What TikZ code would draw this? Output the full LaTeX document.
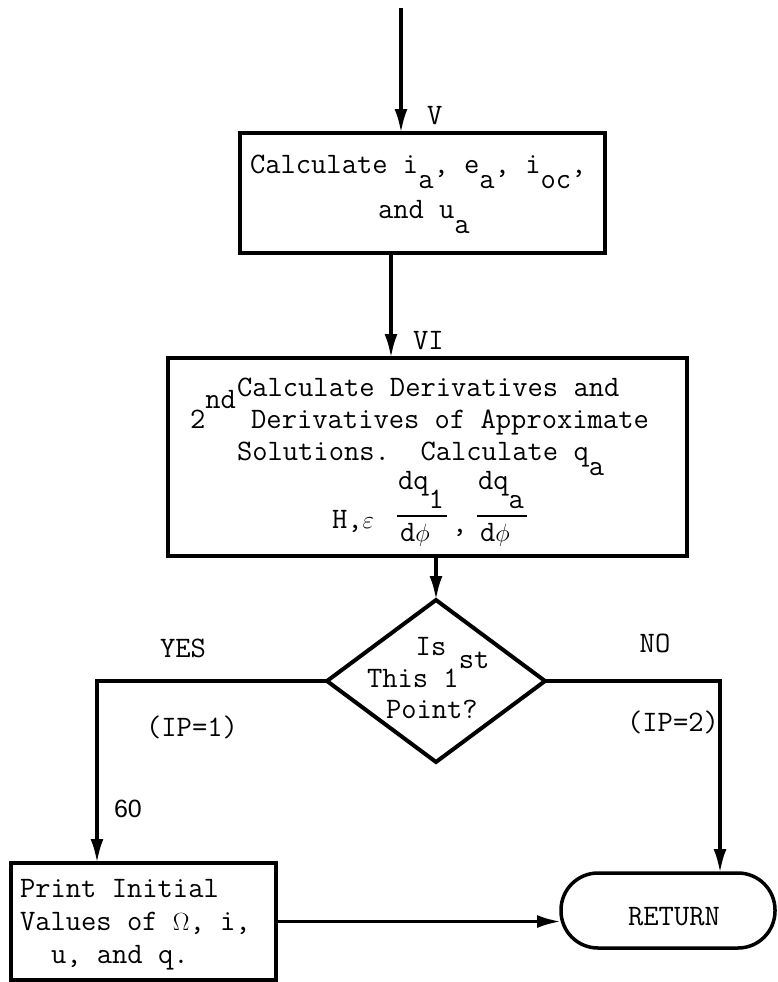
\documentclass[tikz,border=0pt]{standalone}
\usepackage{fontspec}
\newfontfamily\sixtyfont{Liberation Sans}
\usetikzlibrary{shapes.geometric,arrows.meta}
\newcommand\dn[2][15pt]{\raisebox{-#1}[0pt][0pt]{#2}}
\newcommand\up[2][20pt]{\raisebox{#1}[0pt][0pt]{#2}}
\begin{document}
\begin{tikzpicture}[x=1pt,y=-1pt,
  every node/.style={font=\ttfamily\fontsize{29.7}{31}\selectfont},
  box/.style={draw, line width=3.5pt, rectangle, inner sep=0pt, outer sep=0pt},
  dec/.style={draw, line width=4pt, diamond, inner sep=0pt, outer sep=0pt},
  txt/.style={inner sep=0pt, outer sep=0pt, anchor=base west},
  ctxt/.style={inner sep=0pt, outer sep=0pt, anchor=base},
  arr/.style={line width=3.5pt, -{Latex[length=24pt,width=13pt]}},
  bar/.style={line width=2pt}]
\useasboundingbox (0,0) rectangle (777,982);

% shapes
\node[box, minimum width=365pt, minimum height=120pt] (b1) at (422.5,193) {};
\node[box, minimum width=519pt, minimum height=198pt] (b2) at (427.5,457) {};
\node[dec, minimum width=218pt, minimum height=162pt] (d) at (436,681) {};
\node[box, minimum width=265pt, minimum height=117pt] (pr) at (143.5,921.5) {};
\node[box, rounded corners=37pt, minimum width=214pt, minimum height=75pt] (ret) at (668,910.5) {};

% box 1 text
\node[txt] (t1a) at (250,173) {Calculate i\dn{a}, e\dn{a}, i\dn{oc},};
\node[txt] (t1b) at (378,218) {and u\dn{a}};

% box 2 text
\node[txt] (t2a) at (237,396) {Calculate Derivatives and};
\node[txt] (t2b) at (190,428) {2\up{nd} Derivatives of Approximate};
\node[txt] (t2c) at (237,460) {Solutions.\ \ Calculate q\dn{a}};
\node[txt] (t2h) at (332,528) {H,$\varepsilon$};
\node[txt] (n1) at (398,489) {dq\dn[19pt]{1}};
\draw[bar] (397,516) -- (447,516);
\node[txt] (m1) at (400,541) {d$\phi$};
\node[txt] (cm) at (452,532) {,};
\node[txt] (n2) at (478,489) {dq\dn[19pt]{a}};
\draw[bar] (477,516) -- (527,516);
\node[txt] (m2) at (480,541) {d$\phi$};

% diamond text
\node[ctxt] (dq1) at (431,655) {Is};
\node[txt] (dq2) at (367,687) {This 1\up[19pt]{st}};
\node[txt] (dq3) at (386,718) {Point?};

% print box text
\node[txt] (p1) at (20,897) {Print Initial};
\node[txt] (p2) at (20,930) {Values of $\Omega$, i,};
\node[txt] (p3) at (51,963) {u, and q.};

% return
\node[ctxt] (rt) at (674,925) {RETURN};

% labels
\node[txt] (lv) at (427,124) {V};
\node[txt] (lvi) at (413,349) {VI};
\node[ctxt] (ly) at (183,657) {YES};
\node[ctxt] (ln) at (655,652) {NO};
\node[ctxt] (lip1) at (192,736) {(IP=1)};
\node[ctxt] (lip2) at (673,731) {(IP=2)};
\node[ctxt, font=\sixtyfont\fontsize{25}{28}\selectfont] (l60) at (128,817) {60};

% connectors
\coordinate (in) at (401,8);
\draw[arr] (in) -- (in |- b1.north);
\coordinate (c2) at (391,0);
\draw[arr] (c2 |- b1.south) -- (c2 |- b2.north);
\draw[arr] (d.north |- b2.south) -- (d.north);
\coordinate (cy) at (97,0);
\draw[arr] (d.west) -| (cy |- pr.north);
\coordinate (cn) at (720,0);
\draw[arr] (d.east) -| (cn |- ret.north);
\draw[arr] (pr.east) -- (pr.east -| ret.west);
\end{tikzpicture}
\end{document}
